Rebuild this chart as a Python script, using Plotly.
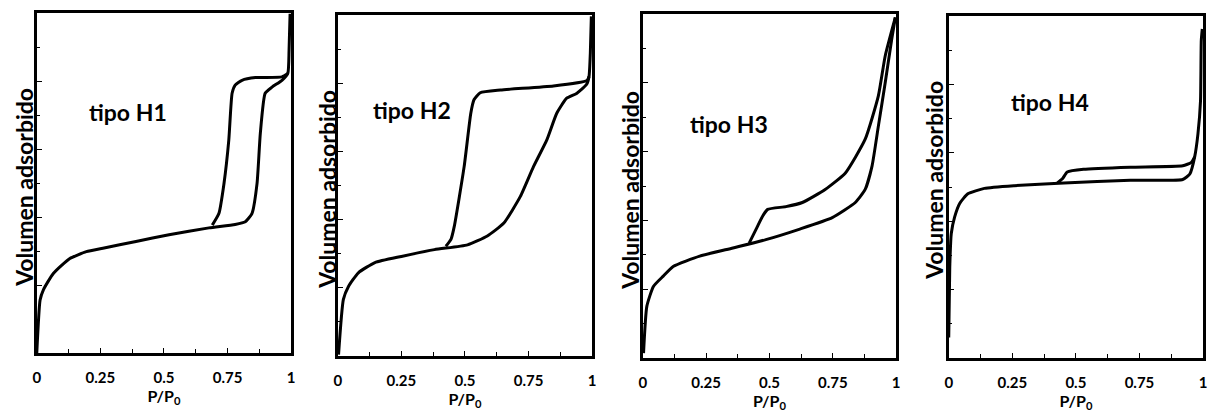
import plotly.graph_objects as go

# ---- data (x = P/P0, y = volumen adsorbido, arbitrary units 0..5) ----
h1_ads_x = [0.0, 0.013, 0.026, 0.065, 0.13, 0.195, 0.26, 0.39, 0.52, 0.677, 0.78, 0.82, 0.846, 0.866, 0.879, 0.898, 0.925, 0.964, 0.987, 0.992, 0.996]
h1_ads_y = [0.0, 0.78, 0.93, 1.17, 1.39, 1.49, 1.54, 1.64, 1.74, 1.84, 1.89, 1.93, 2.05, 2.49, 3.23, 3.82, 3.91, 4.01, 4.11, 4.45, 4.99]
h1_des_x = [0.69, 0.716, 0.736, 0.755, 0.768, 0.78, 0.807, 0.86, 0.964, 0.987]
h1_des_y = [1.88, 2.05, 2.49, 3.13, 3.82, 3.94, 4.01, 4.05, 4.06, 4.11]

h2_ads_x = [0.003, 0.022, 0.042, 0.081, 0.146, 0.25, 0.38, 0.51, 0.588, 0.653, 0.718, 0.77, 0.822, 0.861, 0.90, 0.939, 0.978, 0.988, 0.993, 0.997]
h2_ads_y = [0.02, 0.83, 1.02, 1.22, 1.37, 1.46, 1.56, 1.63, 1.76, 1.95, 2.34, 2.78, 3.17, 3.56, 3.78, 3.85, 3.98, 4.10, 4.44, 4.98]
h2_des_x = [0.425, 0.445, 0.458, 0.497, 0.523, 0.536, 0.56, 0.64, 0.848, 0.98, 0.988]
h2_des_y = [1.61, 1.71, 1.90, 2.78, 3.56, 3.76, 3.86, 3.90, 3.96, 4.04, 4.10]

h3_ads_x = [0.003, 0.016, 0.042, 0.081, 0.12, 0.225, 0.356, 0.486, 0.617, 0.748, 0.839, 0.878, 0.905, 0.93, 0.957, 0.983, 0.997]
h3_ads_y = [0.07, 0.75, 1.04, 1.19, 1.33, 1.48, 1.60, 1.72, 1.87, 2.04, 2.26, 2.45, 2.79, 3.37, 4.00, 4.64, 4.95]
h3_des_x = [0.42, 0.447, 0.473, 0.493, 0.565, 0.63, 0.72, 0.80, 0.878, 0.93, 0.957, 0.997]
h3_des_y = [1.67, 1.87, 2.06, 2.16, 2.20, 2.26, 2.45, 2.69, 3.18, 3.81, 4.39, 4.95]

h4_ads_x = [0.0, 0.004, 0.01, 0.023, 0.043, 0.075, 0.14, 0.258, 0.453, 0.714, 0.92, 0.948, 0.967, 0.98, 0.99, 0.993, 0.997]
h4_ads_y = [0.30, 1.33, 1.82, 2.06, 2.26, 2.40, 2.48, 2.52, 2.56, 2.60, 2.61, 2.69, 2.94, 3.28, 3.76, 4.64, 4.81]
h4_des_x = [0.427, 0.447, 0.466, 0.53, 0.714, 0.92, 0.954, 0.967]
h4_des_y = [2.56, 2.62, 2.72, 2.76, 2.79, 2.81, 2.86, 2.94]

panel_labels = ["tipo H1", "tipo H2", "tipo H3", "tipo H4"]
x_tickvals = [0, 0.25, 0.5, 0.75, 1]
x_ticktext = ["0", "0.25", "0.5", "0.75", "1"]
x_title = "P/P<sub>0</sub>"
y_title = "Volumen adsorbido"

series = [
    (h1_ads_x, h1_ads_y, h1_des_x, h1_des_y),
    (h2_ads_x, h2_ads_y, h2_des_x, h2_des_y),
    (h3_ads_x, h3_ads_y, h3_des_x, h3_des_y),
    (h4_ads_x, h4_ads_y, h4_des_x, h4_des_y),
]

# ---- layout: panel boxes in pixels (left, right, top, bottom) ----
W, H = 1216, 412
boxes = [(33, 289, 13, 353), (336, 592, 15, 356), (643, 898, 14, 358), (951, 1207, 16, 358)]
label_pos = [(0.36, 3.55), (0.29, 3.6), (0.34, 3.4), (0.4, 3.75)]
ytitle_px = [(20, 187), (325, 189), (630, 190), (936, 180)]

FONT = "Lato"
fig = go.Figure()
layout = dict(
    width=W, height=H, margin=dict(l=0, r=0, t=0, b=0),
    paper_bgcolor="white", plot_bgcolor="white", showlegend=False,
    annotations=[],
)

for i, (ax, ay, dx, dy) in enumerate(series):
    n = "" if i == 0 else str(i + 1)
    xa, ya = "x" + n, "y" + n
    for xs, ys in ((ax, ay), (dx, dy)):
        fig.add_trace(go.Scatter(x=xs, y=ys, mode="lines", xaxis=xa, yaxis=ya,
                                 line=dict(color="black", width=3, shape="spline", smoothing=0.5),
                                 hoverinfo="skip"))
    l, r, t, b = boxes[i]
    layout["xaxis" + n] = dict(
        domain=[l / W, r / W], anchor=ya, range=[0, 1],
        showline=True, linecolor="black", linewidth=3, mirror=True,
        showgrid=False, zeroline=False,
        tickvals=x_tickvals, ticktext=x_ticktext,
        ticks="inside", ticklen=5, tickwidth=1.2, tickcolor="black",
        minor=dict(dtick=0.125, tick0=0, ticks="inside", ticklen=4, tickwidth=1.2, tickcolor="black"),
        ticklabelstandoff=9,
        tickfont=dict(family=FONT, size=15, color="black", weight="bold"),
        title=dict(text=x_title, font=dict(family=FONT, size=16, color="black", weight="bold"), standoff=3),
    )
    layout["yaxis" + n] = dict(
        domain=[1 - b / H, 1 - t / H], anchor=xa, range=[0, 5],
        showline=True, linecolor="black", linewidth=3, mirror=True,
        showgrid=False, zeroline=False,
        tickvals=[1, 2, 3, 4], showticklabels=False,
        ticks="inside", ticklen=5, tickwidth=1.2, tickcolor="black",
        minor=dict(dtick=0.5, tick0=0, ticks="inside", ticklen=3, tickwidth=1, tickcolor="black"),
    )
    lx, ly = label_pos[i]
    layout["annotations"].append(dict(
        text=panel_labels[i], x=lx, y=ly, xref=xa, yref=ya, showarrow=False,
        font=dict(family=FONT, size=23, color="black", weight="bold"),
    ))
    px, py = ytitle_px[i]
    layout["annotations"].append(dict(
        text=y_title, x=px / W, y=1 - py / H, xref="paper", yref="paper",
        xanchor="center", yanchor="middle", textangle=-90, showarrow=False,
        font=dict(family=FONT, size=23, color="black", weight="bold"),
    ))

fig.update_layout(**layout)
fig.write_html("out.html")
